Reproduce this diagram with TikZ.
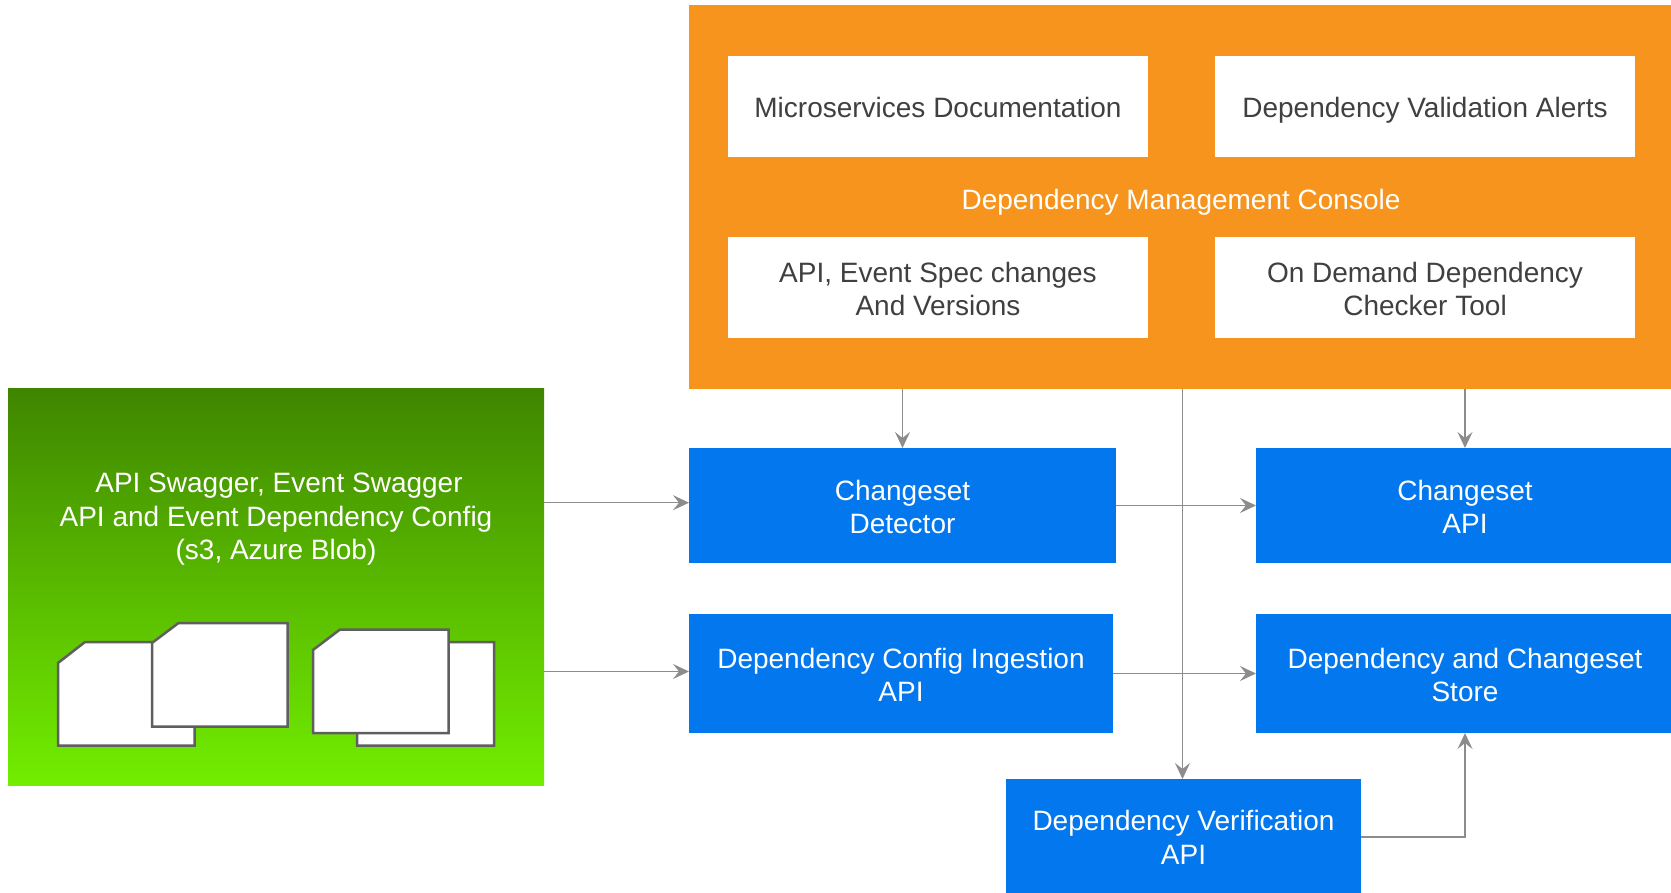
\documentclass[tikz,border=0pt]{standalone}
\usepackage{fontspec}
\setmainfont{Liberation Sans}
\usetikzlibrary{arrows.meta}
\definecolor{orangebg}{HTML}{F7941D}
\definecolor{bluebg}{HTML}{0277EE}
\definecolor{greentop}{HTML}{3F8500}
\definecolor{greenbot}{HTML}{72EE00}
\definecolor{inktext}{HTML}{404040}
\definecolor{linegray}{HTML}{8C8C8C}
\definecolor{docedge}{HTML}{5F5F5F}
\newcommand{\mt}{\vrule height 28.6pt depth 0pt width 0pt\relax}
\newcommand{\mb}{\vrule height 0pt depth 6pt width 0pt\relax}
\tikzset{
  every node/.style={inner sep=0pt, outer sep=0pt, align=center, font=\fontsize{28}{33.4}\selectfont},
  panel/.style={rectangle, fill=orangebg},
  whitebox/.style={rectangle, fill=white, text=inktext, minimum width=420pt, minimum height=101pt},
  bluebox/.style={rectangle, fill=bluebg, text=white},
  greenbox/.style={rectangle, top color=greentop, bottom color=greenbot, shading angle=0},
  link/.style={draw=linegray, line width=1.4pt, -{Stealth[length=16pt,width=15pt,inset=6pt]}},
  doc/.style={draw=docedge, line width=2.5pt, fill=white, line join=miter}
}
\begin{document}
\begin{tikzpicture}[x=1pt,y=-1pt]
\useasboundingbox (0,0) rectangle (1671,893);
% orange console
\node[panel, minimum width=982pt, minimum height=384pt] (console) at (1180,197) {};
\node[whitebox] (docs) at (938,106.5) {\mt Microservices Documentation\mb};
\node[whitebox] (alerts) at (1425,106.5) {\mt Dependency Validation Alerts\mb};
\node[whitebox] (specs) at (938,287.5) {\mt API, Event Spec changes\\And Versions\mb};
\node[whitebox] (checker) at (1425,287.5) {\mt On Demand Dependency\\Checker Tool\mb};
\node[text=white] (consolelabel) at (1181,197.8) {\mt Dependency Management Console\mb};
% green store
\node[greenbox, minimum width=536pt, minimum height=397.5pt] (green) at (276,586.8) {};
\node[text=white] (greenlabel) at (276,515) {\mt\hspace*{6pt}API Swagger, Event Swagger\\API and Event Dependency Config\\(s3, Azure Blob)\mb};
\draw[doc] (85,642) -- (194.5,642) -- (194.5,745.5) -- (58,745.5) -- (58,663) -- cycle;
\draw[doc] (178.5,623) -- (287.5,623) -- (287.5,726.5) -- (152,726.5) -- (152,643) -- cycle;
\draw[doc] (384,642) -- (494,642) -- (494,745.5) -- (357,745.5) -- (357,663) -- cycle;
\draw[doc] (340,629.5) -- (448.5,629.5) -- (448.5,733) -- (313,733) -- (313,650) -- cycle;
% blue boxes
\node[bluebox, minimum width=427pt, minimum height=115pt] (detector) at (902.5,505.5) {\mt Changeset\\Detector\mb};
\node[bluebox, minimum width=418pt, minimum height=115pt] (csapi) at (1465,505.5) {\mt Changeset\\API\mb};
\node[bluebox, minimum width=424pt, minimum height=119pt] (ingest) at (901,673.5) {\mt Dependency Config Ingestion\\API\mb};
\node[bluebox, minimum width=418pt, minimum height=119pt] (store) at (1465,673.5) {\mt Dependency and Changeset\\Store\mb};
\node[bluebox, minimum width=355pt, minimum height=114pt] (verify) at (1183.5,836) {\mt Dependency Verification\\API\mb};
% connectors
\draw[link] (console.south -| detector.north) -- (detector.north);
\draw[link] (console.south -| csapi.north) -- (csapi.north);
\draw[link] ([xshift=-1pt]console.south -| verify.north) -- ([xshift=-1pt]verify.north);
\draw[link] ([yshift=84.1pt]green.east) -- ([yshift=2.8pt]detector.west);
\draw[link] ([yshift=-84.7pt]green.east) -- ([yshift=2pt]ingest.west);
\draw[link] (detector.east) -- (csapi.west);
\draw[link] (ingest.east) -- (store.west);
\draw[link] ([yshift=-1pt]verify.east) -| (store.south);
\end{tikzpicture}
\end{document}
